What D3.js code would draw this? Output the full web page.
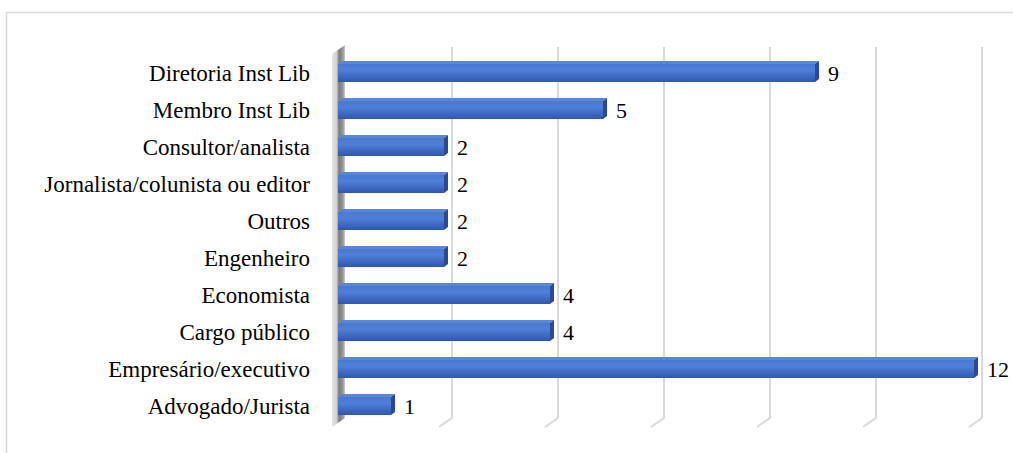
<!DOCTYPE html>
<html>
<head>
<meta charset="utf-8">
<script src="https://cdn.jsdelivr.net/npm/d3@7"></script>
<style>
  html, body { margin: 0; padding: 0; background: #fff; }
  svg { display: block; }
  svg text { font-family: "Liberation Serif", "Times New Roman", Times, "DejaVu Serif", serif; }
</style>
</head>
<body>
<svg id="chart" width="1013" height="453"></svg>
<script>
// Occupations, listed top to bottom
const categories = [
  "Diretoria Inst Lib",
  "Membro Inst Lib",
  "Consultor/analista",
  "Jornalista/colunista ou editor",
  "Outros",
  "Engenheiro",
  "Economista",
  "Cargo público",
  "Empresário/executivo",
  "Advogado/Jurista"
];
const counts = [9, 5, 2, 2, 2, 2, 4, 4, 12, 1];
const gridTicks = [0, 2, 4, 6, 8, 10, 12];

const svg = d3.select("#chart");
const W = 1013, H = 453;

// outer frame (only top and left edges fall inside the view)
svg.append("rect")
  .attr("x", 6.5).attr("y", 12.5)
  .attr("width", W + 20).attr("height", H + 20)
  .attr("fill", "none").attr("stroke", "#d9d9d9").attr("stroke-width", 1.5);

// value scale on the front plane of the bars
const x = d3.scaleLinear().domain([0, 12]).range([338, 974]);
const y = d3.scalePoint().domain(categories).range([73, 406]);
const barH = 18;

// 3D depth: the back wall sits up/right of the front plane
const backDX = 8, backTop = 47, backBottom = 418;
const floorDX = -13, floorDY = 9;

const defs = svg.append("defs");
const gBar = defs.append("linearGradient").attr("id", "barFront")
  .attr("x1", 0).attr("y1", 0).attr("x2", 0).attr("y2", 1);
gBar.append("stop").attr("offset", 0).attr("stop-color", "#4a78cf");
gBar.append("stop").attr("offset", 0.35).attr("stop-color", "#4f7fd8");
gBar.append("stop").attr("offset", 1).attr("stop-color", "#2f57ad");

const gWall = defs.append("linearGradient").attr("id", "wall")
  .attr("x1", 0).attr("y1", 0).attr("x2", 1).attr("y2", 0);
gWall.append("stop").attr("offset", 0).attr("stop-color", "#e6e6e6");
gWall.append("stop").attr("offset", 0.35).attr("stop-color", "#d0d0d0");
gWall.append("stop").attr("offset", 0.55).attr("stop-color", "#7a7a7a");
gWall.append("stop").attr("offset", 0.85).attr("stop-color", "#9a9a9a");
gWall.append("stop").attr("offset", 1).attr("stop-color", "#cfcfcf");

// gridlines on the back wall with their feet on the floor
const grid = svg.append("g").attr("fill", "none")
  .attr("stroke", "#d9d9d9").attr("stroke-width", 2);
grid.selectAll("path").data(gridTicks.slice(1)).join("path")
  .attr("d", d => {
    const bx = x(d) + backDX;
    return `M${bx},${backTop} L${bx},${backBottom} L${bx + floorDX},${backBottom + floorDY}`;
  });

// left side wall (the base of the horizontal bars)
const wx = x(0) + backDX - 1;
svg.append("path")
  .attr("d", `M${wx},${backTop - 2} L${wx},${backBottom} L${wx + floorDX},${backBottom + floorDY} L${wx + floorDX},${backTop + 7} Z`)
  .attr("fill", "url(#wall)");

// bars: top face, end cap, front face
const depthX = 4, depthY = -3;
const bars = svg.append("g").selectAll("g").data(categories).join("g");

bars.append("path")
  .attr("d", (c, i) => {
    const x0 = x(0), x1 = x(counts[i]), t = y(c) - barH / 2;
    return `M${x0},${t} L${x0 + depthX},${t + depthY} L${x1 + depthX},${t + depthY} L${x1},${t} Z`;
  })
  .attr("fill", "#5a86d6");

bars.append("path")
  .attr("d", (c, i) => {
    const x1 = x(counts[i]), t = y(c) - barH / 2;
    return `M${x1},${t} L${x1 + depthX},${t + depthY} L${x1 + depthX},${t + barH + depthY} L${x1},${t + barH} Z`;
  })
  .attr("fill", "#2c4a8f");

bars.append("rect")
  .attr("x", x(0))
  .attr("y", c => y(c) - barH / 2)
  .attr("width", (c, i) => x(counts[i]) - x(0))
  .attr("height", barH)
  .attr("fill", "url(#barFront)");

// category labels
svg.append("g").selectAll("text").data(categories).join("text")
  .attr("x", 310)
  .attr("y", c => y(c))
  .attr("dy", "0.35em")
  .attr("text-anchor", "end")
  .attr("font-size", 23)
  .attr("fill", "#000")
  .text(c => c);

// value labels at bar ends
svg.append("g").selectAll("text").data(categories).join("text")
  .attr("x", (c, i) => x(counts[i]) + 13)
  .attr("y", c => y(c))
  .attr("dy", "0.35em")
  .attr("font-size", 22)
  .attr("fill", "#000")
  .text((c, i) => counts[i]);
</script>
</body>
</html>
